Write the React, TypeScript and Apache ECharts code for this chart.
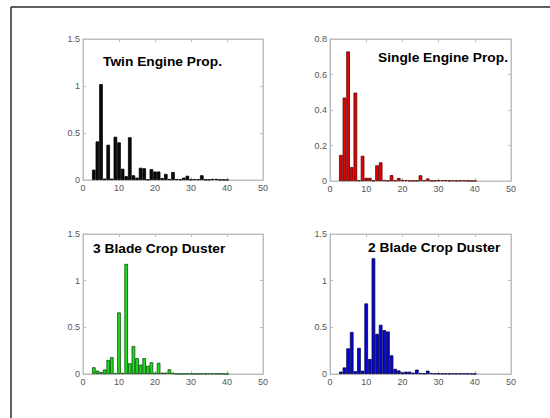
import React, { useEffect, useRef } from "react";
import * as echarts from "echarts";

const bins = [3, 4, 5, 6, 7, 8, 9, 10, 11, 12, 13, 14, 15, 16, 17, 18, 19, 20, 21, 22, 23, 24, 25, 26, 27, 28, 29, 30, 31, 32, 33, 34, 35, 36, 37, 38, 39, 40];

const twinEngine = [0.11, 0.41, 1.02, 0.015, 0.375, 0.015, 0.46, 0.40, 0.12, 0.04, 0.455, 0.05, 0.025, 0.13, 0.125, 0.005, 0.115, 0.09, 0.09, 0.02, 0.065, 0.01, 0.085, 0.01, 0.008, 0.025, 0.045, 0.005, 0.01, 0.008, 0.05, 0.004, 0.004, 0.012, 0.012, 0.003, 0.003, 0.002];
const singleEngine = [0.147, 0.47, 0.73, 0.078, 0.498, 0.004, 0.142, 0.018, 0.018, 0.003, 0.088, 0.105, 0.006, 0.002, 0.033, 0.003, 0.017, 0.006, 0.005, 0.002, 0.002, 0.002, 0.032, 0.004, 0.014, 0.002, 0.002, 0.005, 0.005, 0.005, 0.002, 0.004, 0.002, 0.002, 0.004, 0.001, 0.001, 0.001];
const bladeThree = [0.072, 0.036, 0.02, 0.048, 0.15, 0.18, 0.01, 0.66, 0.012, 1.18, 0.115, 0.30, 0.17, 0.10, 0.17, 0.088, 0.125, 0.015, 0.12, 0.015, 0.015, 0.05, 0.015, 0.003, 0.002, 0.003, 0.004, 0.003, 0.002, 0.003, 0.003, 0.004, 0.004, 0.005, 0.004, 0.003, 0.001, 0.001];
const bladeTwo = [0.025, 0.07, 0.275, 0.45, 0.03, 0.28, 0.035, 0.756, 0.16, 1.24, 0.43, 0.527, 0.47, 0.455, 0.2, 0.055, 0.038, 0.018, 0.025, 0.025, 0.014, 0.047, 0.01, 0.006, 0.036, 0.01, 0.005, 0.005, 0.005, 0.005, 0.004, 0.005, 0.004, 0.005, 0.005, 0.004, 0.004, 0.002];

const titles = ["Twin Engine Prop.", "Single Engine Prop.", "3 Blade Crop Duster", "2 Blade Crop Duster"];
const yMax = [1.5, 0.8, 1.5, 1.5];
const yStep = [0.5, 0.2, 0.5, 0.5];
const xMax = 50;
const xStep = 10;

const panels = [
  { data: twinEngine, fill: "#0a0a0a", edge: "#000000", grid: { left: 83, top: 39, width: 180, height: 141 }, title: { x: 103, y: 62 } },
  { data: singleEngine, fill: "#e80000", edge: "#5a0000", grid: { left: 330, top: 39, width: 181, height: 142 }, title: { x: 378, y: 58 } },
  { data: bladeThree, fill: "#1ee01e", edge: "#0a4a0a", grid: { left: 83, top: 234, width: 180, height: 140 }, title: { x: 93, y: 249 } },
  { data: bladeTwo, fill: "#0606d8", edge: "#00004a", grid: { left: 330, top: 234, width: 181, height: 140 }, title: { x: 368, y: 248 } },
];

const AXIS = "#bdbdbd";
const LABEL = "#555555";
const FONT = "Liberation Sans";

export default function App() {
  const ref = useRef<HTMLDivElement>(null);
  useEffect(() => {
    if (!ref.current) return;
    const chart = echarts.init(ref.current, undefined, { renderer: "svg" });
    const grids: any[] = [];
    const xAxes: any[] = [];
    const yAxes: any[] = [];
    const series: any[] = [];
    const graphics: any[] = [];
    const n = panels.length;
    panels.forEach((p, i) => {
      grids.push({ ...p.grid, show: true, borderColor: AXIS, borderWidth: 1, backgroundColor: "transparent" });
      const common = {
        type: "value",
        gridIndex: i,
        splitLine: { show: false },
        axisLine: { show: true, onZero: false, lineStyle: { color: AXIS, width: 1 } },
        axisTick: { show: true, inside: true, length: 3, lineStyle: { color: AXIS } },
      };
      xAxes[i] = { ...common, position: "bottom", min: 0, max: xMax, interval: xStep, axisLabel: { fontSize: 9, color: LABEL, margin: 3, fontFamily: FONT } };
      xAxes[i + n] = { ...common, position: "top", min: 0, max: xMax, interval: xStep, axisLabel: { show: false } };
      yAxes[i] = { ...common, position: "left", min: 0, max: yMax[i], interval: yStep[i], axisLabel: { fontSize: 9, color: LABEL, margin: 3, fontFamily: FONT } };
      yAxes[i + n] = { ...common, position: "right", min: 0, max: yMax[i], interval: yStep[i], axisLabel: { show: false } };
      series.push({
        type: "bar",
        xAxisIndex: i,
        yAxisIndex: i,
        barWidth: "100%",
        data: bins.map((b, j) => [b, p.data[j]]),
        itemStyle: { color: p.fill, borderColor: p.edge, borderWidth: 0.8 },
      });
      graphics.push({
        type: "text",
        x: p.title.x,
        y: p.title.y,
        scaleX: 1.06,
        style: { text: titles[i], font: `bold 13px "${FONT}"`, fill: "#000", textVerticalAlign: "middle" },
      });
    });
    graphics.push({ type: "line", shape: { x1: 11, y1: 7, x2: 550, y2: 7 }, style: { stroke: "#2a2a2a", lineWidth: 1.5 } });
    graphics.push({ type: "line", shape: { x1: 11, y1: 7, x2: 11, y2: 418 }, style: { stroke: "#2a2a2a", lineWidth: 1.5 } });

    chart.setOption({
      animation: false,
      backgroundColor: "#ffffff",
      grid: grids,
      xAxis: xAxes,
      yAxis: yAxes,
      series,
      graphic: graphics,
    });
    return () => chart.dispose();
  }, []);
  return <div ref={ref} style={{ position: "absolute", left: 0, top: 0, width: 550, height: 418 }} />;
}
